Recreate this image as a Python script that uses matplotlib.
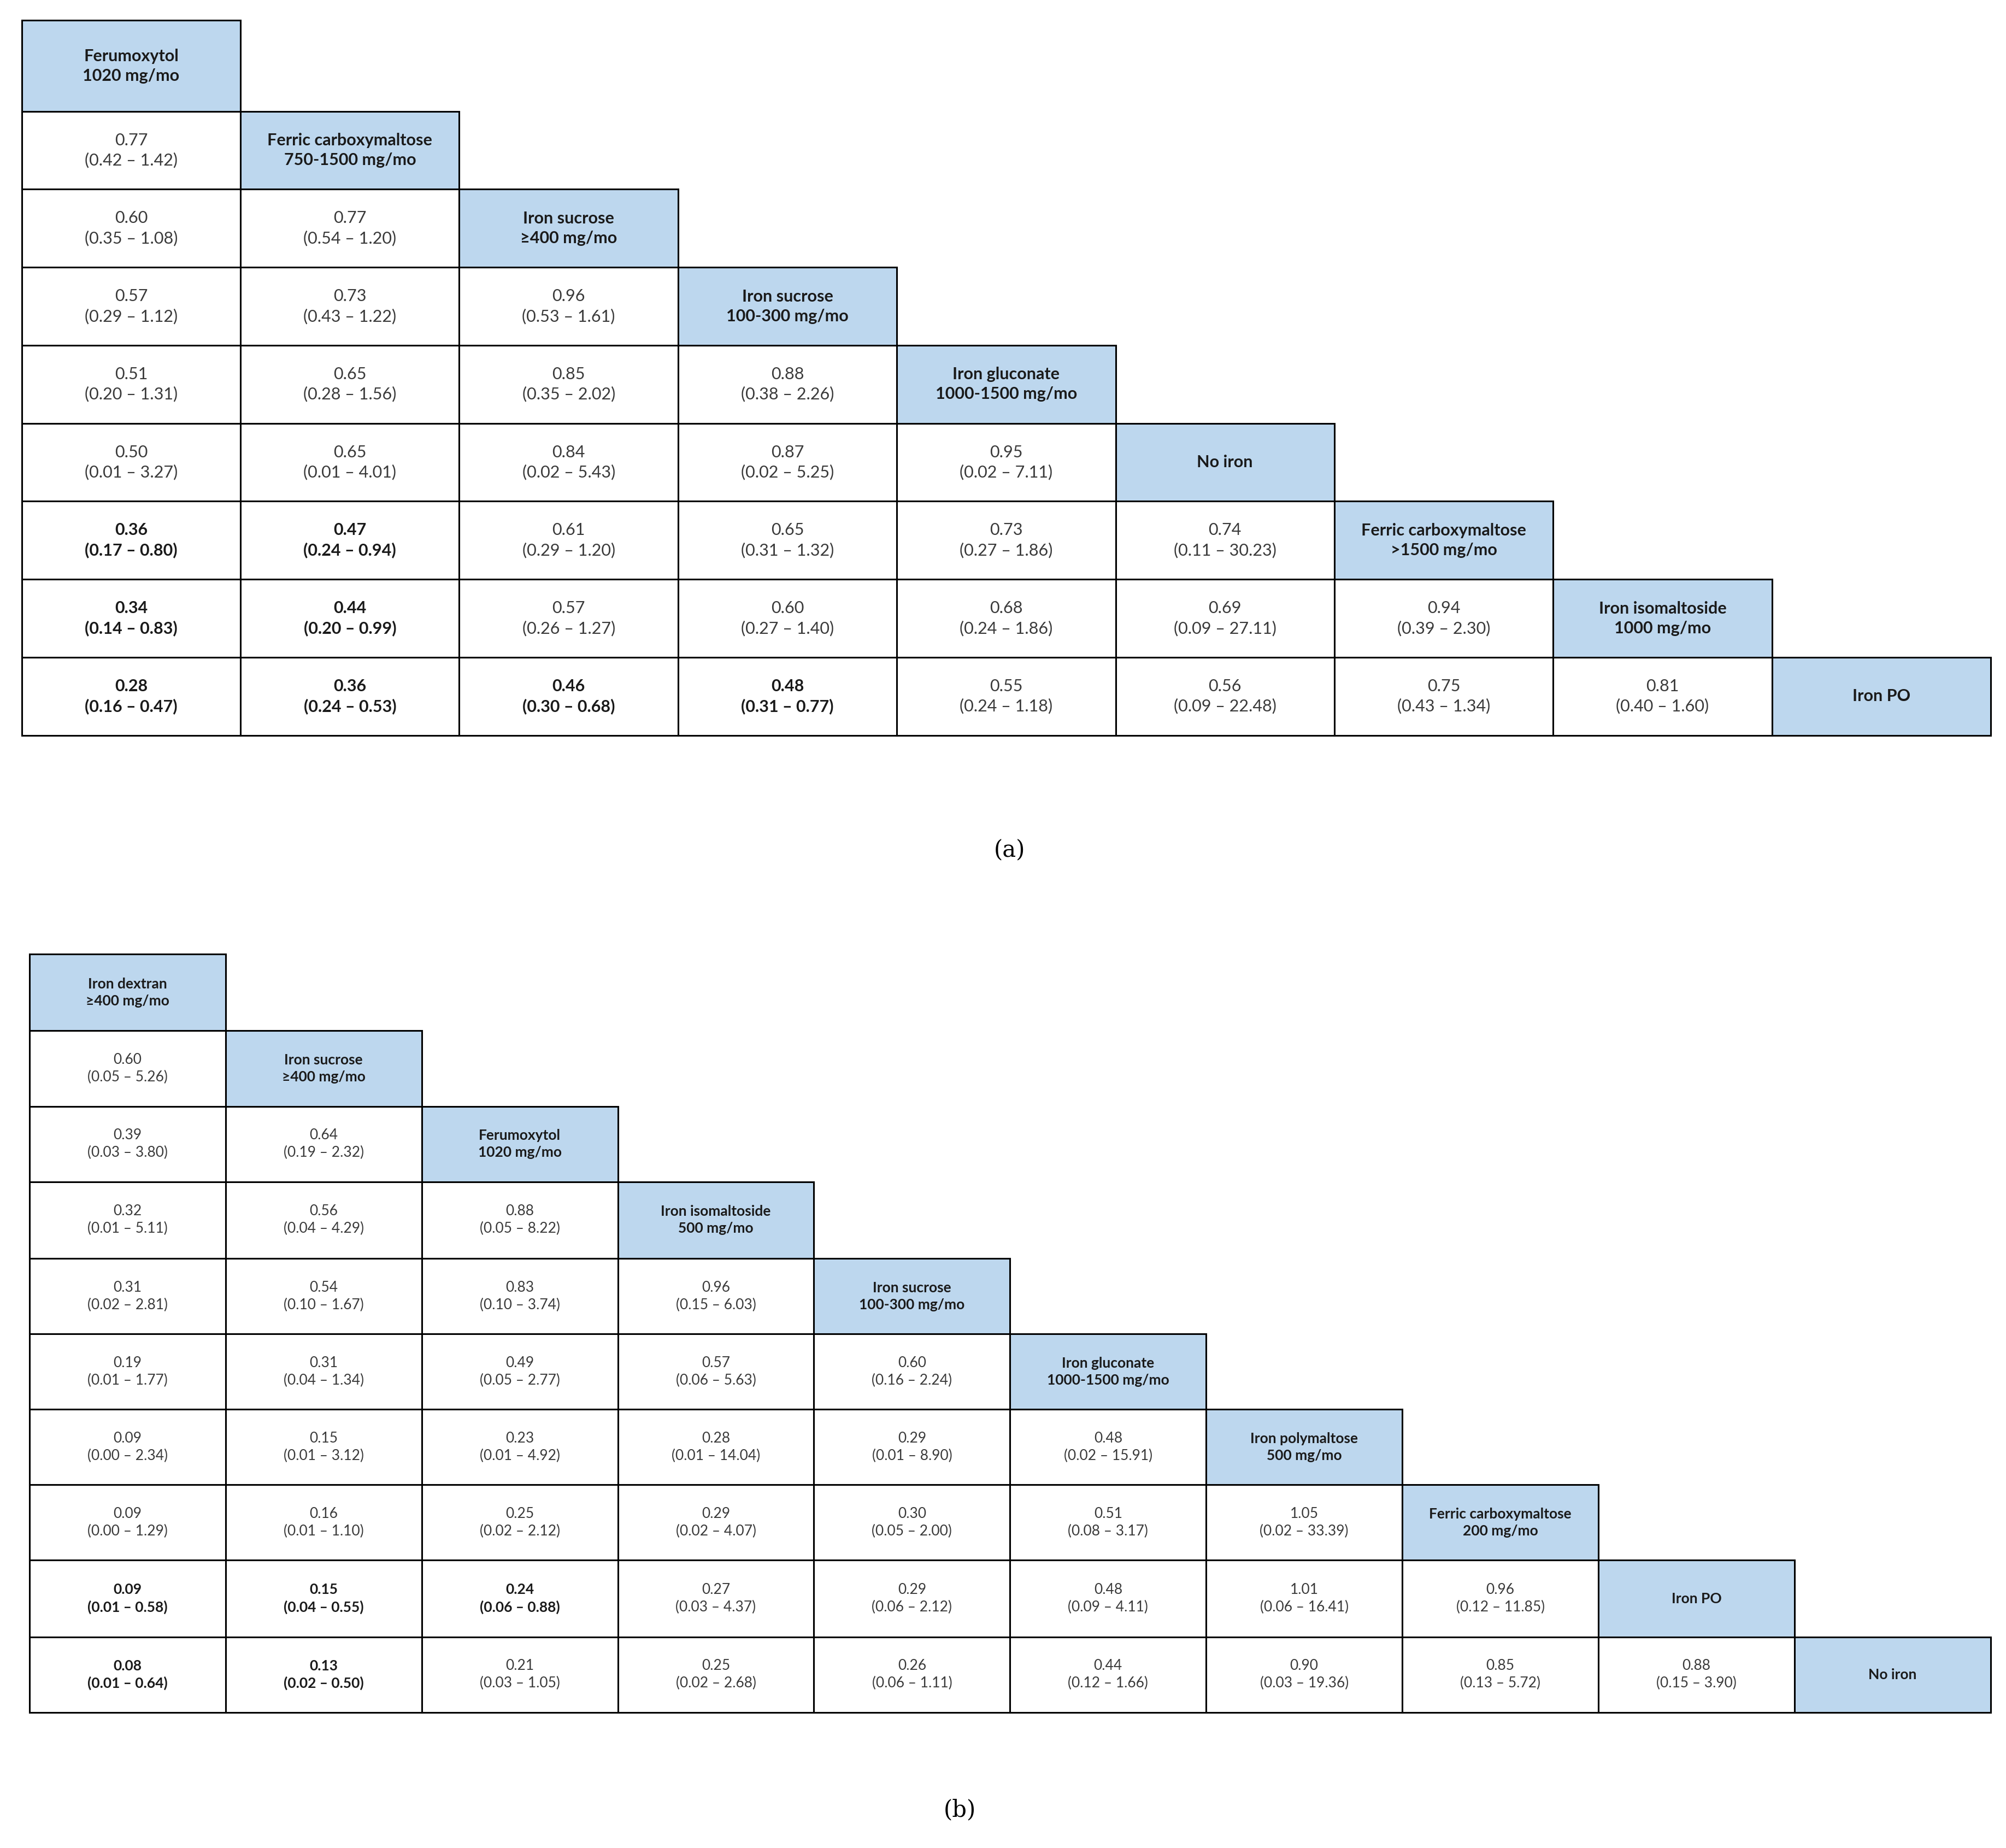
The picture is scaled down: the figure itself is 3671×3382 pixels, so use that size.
import matplotlib
matplotlib.use("Agg")
import matplotlib.pyplot as plt
from matplotlib.patches import Rectangle

# ---------------- data ----------------
a_names = ["Ferumoxytol\n1020 mg/mo", "Ferric carboxymaltose\n750-1500 mg/mo", "Iron sucrose\n≥400 mg/mo",
           "Iron sucrose\n100-300 mg/mo", "Iron gluconate\n1000-1500 mg/mo", "No iron",
           "Ferric carboxymaltose\n>1500 mg/mo", "Iron isomaltoside\n1000 mg/mo", "Iron PO"]
a_vals = [
    ["0.77\n(0.42 – 1.42)"],
    ["0.60\n(0.35 – 1.08)", "0.77\n(0.54 – 1.20)"],
    ["0.57\n(0.29 – 1.12)", "0.73\n(0.43 – 1.22)", "0.96\n(0.53 – 1.61)"],
    ["0.51\n(0.20 – 1.31)", "0.65\n(0.28 – 1.56)", "0.85\n(0.35 – 2.02)", "0.88\n(0.38 – 2.26)"],
    ["0.50\n(0.01 – 3.27)", "0.65\n(0.01 – 4.01)", "0.84\n(0.02 – 5.43)", "0.87\n(0.02 – 5.25)", "0.95\n(0.02 – 7.11)"],
    ["0.36\n(0.17 – 0.80)", "0.47\n(0.24 – 0.94)", "0.61\n(0.29 – 1.20)", "0.65\n(0.31 – 1.32)", "0.73\n(0.27 – 1.86)", "0.74\n(0.11 – 30.23)"],
    ["0.34\n(0.14 – 0.83)", "0.44\n(0.20 – 0.99)", "0.57\n(0.26 – 1.27)", "0.60\n(0.27 – 1.40)", "0.68\n(0.24 – 1.86)", "0.69\n(0.09 – 27.11)", "0.94\n(0.39 – 2.30)"],
    ["0.28\n(0.16 – 0.47)", "0.36\n(0.24 – 0.53)", "0.46\n(0.30 – 0.68)", "0.48\n(0.31 – 0.77)", "0.55\n(0.24 – 1.18)", "0.56\n(0.09 – 22.48)", "0.75\n(0.43 – 1.34)", "0.81\n(0.40 – 1.60)"],
]
a_bold = [[0], [0, 0], [0, 0, 0], [0] * 4, [0] * 5, [1, 1, 0, 0, 0, 0], [1, 1, 0, 0, 0, 0, 0], [1, 1, 1, 1, 0, 0, 0, 0]]

b_names = ["Iron dextran\n≥400 mg/mo", "Iron sucrose\n≥400 mg/mo", "Ferumoxytol\n1020 mg/mo",
           "Iron isomaltoside\n500 mg/mo", "Iron sucrose\n100-300 mg/mo", "Iron gluconate\n1000-1500 mg/mo",
           "Iron polymaltose\n500 mg/mo", "Ferric carboxymaltose\n200 mg/mo", "Iron PO", "No iron"]
b_vals = [
    ["0.60\n(0.05 – 5.26)"],
    ["0.39\n(0.03 – 3.80)", "0.64\n(0.19 – 2.32)"],
    ["0.32\n(0.01 – 5.11)", "0.56\n(0.04 – 4.29)", "0.88\n(0.05 – 8.22)"],
    ["0.31\n(0.02 – 2.81)", "0.54\n(0.10 – 1.67)", "0.83\n(0.10 – 3.74)", "0.96\n(0.15 – 6.03)"],
    ["0.19\n(0.01 – 1.77)", "0.31\n(0.04 – 1.34)", "0.49\n(0.05 – 2.77)", "0.57\n(0.06 – 5.63)", "0.60\n(0.16 – 2.24)"],
    ["0.09\n(0.00 – 2.34)", "0.15\n(0.01 – 3.12)", "0.23\n(0.01 – 4.92)", "0.28\n(0.01 – 14.04)", "0.29\n(0.01 – 8.90)", "0.48\n(0.02 – 15.91)"],
    ["0.09\n(0.00 – 1.29)", "0.16\n(0.01 – 1.10)", "0.25\n(0.02 – 2.12)", "0.29\n(0.02 – 4.07)", "0.30\n(0.05 – 2.00)", "0.51\n(0.08 – 3.17)", "1.05\n(0.02 – 33.39)"],
    ["0.09\n(0.01 – 0.58)", "0.15\n(0.04 – 0.55)", "0.24\n(0.06 – 0.88)", "0.27\n(0.03 – 4.37)", "0.29\n(0.06 – 2.12)", "0.48\n(0.09 – 4.11)", "1.01\n(0.06 – 16.41)", "0.96\n(0.12 – 11.85)"],
    ["0.08\n(0.01 – 0.64)", "0.13\n(0.02 – 0.50)", "0.21\n(0.03 – 1.05)", "0.25\n(0.02 – 2.68)", "0.26\n(0.06 – 1.11)", "0.44\n(0.12 – 1.66)", "0.90\n(0.03 – 19.36)", "0.85\n(0.13 – 5.72)", "0.88\n(0.15 – 3.90)"],
]
b_bold = [[0], [0, 0], [0] * 3, [0] * 4, [0] * 5, [0] * 6, [0] * 7, [1, 1, 1, 0, 0, 0, 0, 0], [1, 1, 0, 0, 0, 0, 0, 0, 0]]

BLUE = "#bdd7ee"
W, H = 1568, 1445
fig = plt.figure(figsize=(36.71, 33.82), dpi=100)
ax = fig.add_axes([0, 0, 1, 1])
ax.set_xlim(0, W)
ax.set_ylim(H, 0)
ax.axis("off")
FONT = ["Lato", "DejaVu Sans"]


def panel(names, vals, bold, x0, cw, row_tops, fs):
    n = len(names)
    for i in range(n):
        top, bot = row_tops[i], row_tops[i + 1]
        for j in range(i + 1):
            x = x0 + j * cw
            diag = (j == i)
            ax.add_patch(Rectangle((x, top), cw, bot - top, facecolor=BLUE if diag else "white",
                                   edgecolor="black", lw=2.2, zorder=2 if diag else 1))
            if diag:
                txt, fw, col = names[i], "bold", "#1a1a1a"
            else:
                txt = vals[i - 1][j]
                fw = "bold" if bold[i - 1][j] else "normal"
                col = "#1a1a1a" if fw == "bold" else "#3a3a3a"
            ax.text(x + cw / 2, (top + bot) / 2, txt, ha="center", va="center", fontsize=fs,
                    fontweight=fw, color=col, family=FONT, linespacing=1.35, zorder=3)


a_rows = [16, 87, 148, 209, 270, 331, 392, 453, 514, 575]
panel(a_names, a_vals, a_bold, 17, 171, a_rows, 22)
b_rows = [746, 806, 865, 924, 984, 1043, 1102, 1161, 1220, 1280, 1339]
panel(b_names, b_vals, b_bold, 23, 153.3, b_rows, 19)

ax.text(789, 665, "(a)", ha="center", va="center", fontsize=30, family="DejaVu Serif")
ax.text(750, 1415, "(b)", ha="center", va="center", fontsize=30, family="DejaVu Serif")
fig.savefig("out.png", dpi=100, facecolor="white")
